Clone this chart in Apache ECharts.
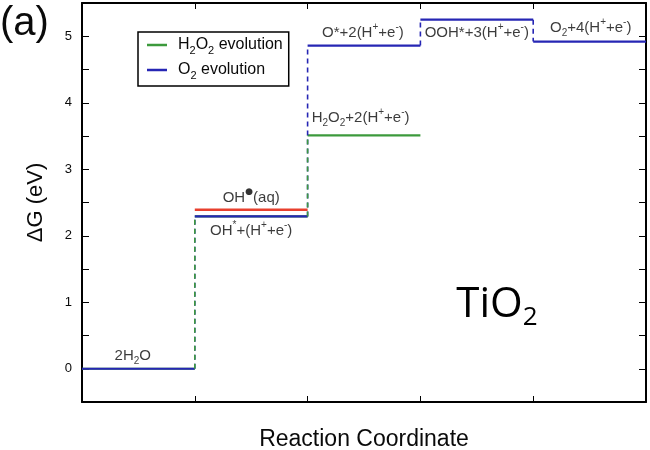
<!DOCTYPE html>
<html>
<head>
<meta charset="utf-8">
<script src="https://cdn.jsdelivr.net/npm/echarts@6/dist/echarts.min.js"></script>
<style>html,body{margin:0;padding:0;background:#fff}#c{width:650px;height:450px}</style>
</head>
<body>
<div id="c"></div>
<script>
// ---- data ----
const o2Levels = [0, 2.29, 4.86, 5.25, 4.92];      // O2 evolution pathway, one level per state
const h2o2Levels = [0, 2.29, 3.51];               // H2O2 evolution pathway
const ohAqState = 1;                              // state index of OH•(aq)
const ohAqLevel = 2.39;
const yTickLabels = [0, 1, 2, 3, 4, 5];
const seriesNames = ['H_2O_2 evolution', 'O_2 evolution'];
const stateLabels = ['2H_2O', 'OH^*+(H^++e^-)', 'OH^●(aq)', 'H_2O_2+2(H^++e^-)', 'O*+2(H^++e^-)', 'OOH*+3(H^++e^-)', 'O_2+4(H^++e^-)'];
// label anchors (data coords) - placement only
const labelAnchors = [[0.45, 0.20], [1.5, 2.08], [1.5, 2.57], [2.47, 3.77], [2.49, 5.05], [3.5, 5.05], [4.51, 5.13]];

const GREEN = '#3c9a3c', BLUE = '#2626b4', RED = '#e8402e';
const FONT = 'Liberation Sans, Arial, sans-serif';
const TXT = '#0a0a0a';

function rich(s) {
  let out = '', buf = '';
  const flush = () => { if (buf) { out += '{n|' + buf + '}'; buf = ''; } };
  for (let i = 0; i < s.length; i++) {
    const ch = s[i];
    if ((ch === '_' || ch === '^') && i + 1 < s.length) {
      flush();
      const c = s[i + 1];
      out += (ch === '_' ? '{sub|' : (c === '●' ? '{dot|' : '{sup|')) + c + '}';
      i++;
    } else buf += ch;
  }
  flush();
  return out;
}
function richStyles(fs) {
  const s = Math.round(fs * 0.68);
  return {
    n: {fontSize: fs, fontFamily: FONT, color: TXT, lineHeight: fs + 6},
    sub: {fontSize: s, fontFamily: FONT, color: TXT, verticalAlign: 'bottom', lineHeight: s},
    sup: {fontSize: s, fontFamily: FONT, color: TXT, verticalAlign: 'top', lineHeight: s},
    dot: {fontSize: 9, fontFamily: 'DejaVu Sans', color: '#000', verticalAlign: 'top', lineHeight: 7}
  };
}

const series = [];
function addPath(name, levels, color, zLevel, zConn) {
  levels.forEach((lv, i) => {
    series.push({name, type: 'line', data: [[i, lv], [i + 1, lv]], showSymbol: false, symbol: 'none',
      lineStyle: {color, width: 2.2}, itemStyle: {color}, z: zLevel, animation: false, silent: true});
    if (i > 0) {
      series.push({name, type: 'line', data: [[i, levels[i - 1]], [i, lv]], showSymbol: false, symbol: 'none',
        lineStyle: {color, width: 1.6, type: [5, 4]}, itemStyle: {color}, z: zConn, animation: false, silent: true});
    }
  });
}
addPath(seriesNames[0], h2o2Levels, GREEN, 2, 4);
addPath(seriesNames[1], o2Levels, BLUE, 3, 3);
series.push({name: 'OH(aq)', type: 'line', data: [[ohAqState, ohAqLevel], [ohAqState + 1, ohAqLevel]], showSymbol: false, symbol: 'none',
  lineStyle: {color: RED, width: 2.4}, z: 3, animation: false, silent: true});
series.push({name: 'labels', type: 'scatter', symbolSize: 1, itemStyle: {color: 'rgba(0,0,0,0)'}, z: 6, animation: false, silent: true,
  data: labelAnchors.map((p, i) => ({value: p, label: {formatter: rich(stateLabels[i])}})),
  label: {show: true, position: 'inside', color: TXT, rich: richStyles(15)}});

const axisLine = {show: true, onZero: false, lineStyle: {color: '#000', width: 2}};
const chart = echarts.init(document.getElementById('c'), null, {renderer: 'canvas'});
chart.setOption({
  backgroundColor: '#fff',
  animation: false,
  grid: {left: 82, right: 4, top: 3, bottom: 48, containLabel: false, outerBoundsMode: 'none'},
  xAxis: [
    {type: 'value', min: 0, max: 5, interval: 1, position: 'bottom', axisLine,
      axisTick: {show: true, inside: true, length: 6, lineStyle: {color: '#000', width: 1}},
      axisLabel: {show: false}, splitLine: {show: false},
      name: 'Reaction Coordinate', nameLocation: 'middle', nameGap: 26,
      nameTextStyle: {fontSize: 23, fontFamily: FONT, color: TXT}},
    {type: 'value', min: 0, max: 5, interval: 1, position: 'top', axisLine,
      axisTick: {show: true, inside: true, length: 6, lineStyle: {color: '#000', width: 1}},
      axisLabel: {show: false}, splitLine: {show: false}}
  ],
  yAxis: [
    {type: 'value', min: -0.5, max: 5.5, interval: 0.5, position: 'left', axisLine,
      axisTick: {show: true, inside: true, length: 7, lineStyle: {color: '#000', width: 1}},
      axisLabel: {fontSize: 13, fontFamily: FONT, color: TXT, margin: 10,
        formatter: v => (Number.isInteger(v) && yTickLabels.indexOf(v) >= 0) ? String(v) : ''},
      splitLine: {show: false},
      name: 'ΔG (eV)', nameLocation: 'middle', nameGap: 35,
      nameTextStyle: {fontSize: 22, fontFamily: FONT, color: TXT}},
    {type: 'value', min: -0.5, max: 5.5, interval: 0.5, position: 'right', axisLine,
      axisTick: {show: true, inside: true, length: 7, lineStyle: {color: '#000', width: 1}},
      axisLabel: {show: false}, splitLine: {show: false}}
  ],
  legend: {
    data: seriesNames, left: 138, top: 32, orient: 'vertical', icon: 'rect', itemWidth: 20, itemHeight: 2.5,
    itemGap: 6, padding: [5, 6, 5, 9], borderColor: '#000', borderWidth: 1.5, backgroundColor: '#fff',
    formatter: n => rich(n), textStyle: {padding: [0, 0, 0, 6], rich: richStyles(16)}, selectedMode: false
  },
  graphic: [
    {type: 'text', left: 0, top: 4, style: {text: '(a)', font: '40px "Liberation Sans", Arial, sans-serif', fill: TXT}},
    {type: 'text', x: 497, y: 305, style: {text: '{a|TiO}{b|2}', align: 'center', verticalAlign: 'middle',
      rich: {a: {fontSize: 42, fontFamily: 'Open Sans', color: TXT, lineHeight: 52},
             b: {fontSize: 26, fontFamily: 'Open Sans', color: TXT, verticalAlign: 'bottom', lineHeight: 30}}}}
  ],
  series
});
</script>
</body>
</html>
